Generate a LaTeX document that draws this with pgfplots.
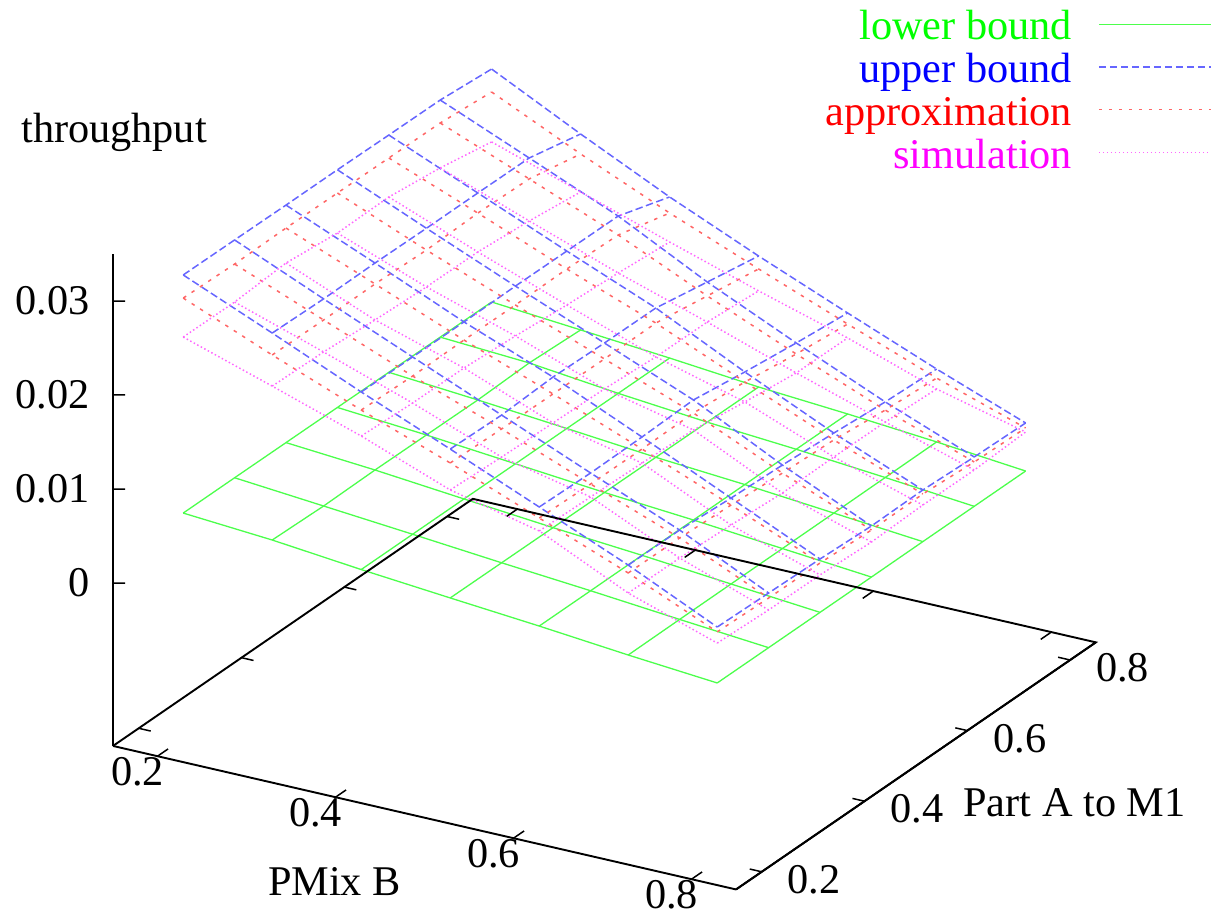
\documentclass[border=0pt]{standalone}
\usepackage{fontspec}
\setmainfont{Liberation Serif}
\usepackage{pgfplots}
\usepackage{pgfplotstable}
\pgfplotsset{compat=1.18}
\newcommand\myf{\fontsize{42.3pt}{42.7pt}\selectfont}
\definecolor{lgreen}{rgb}{0.3,1,0.3}
\definecolor{lblue}{rgb}{0.4,0.4,1}
\definecolor{lred}{rgb}{1,0.4,0.4}
\definecolor{lmag}{rgb}{1,0.4,1}
\definecolor{tgreen}{rgb}{0,1,0}
\definecolor{tblue}{rgb}{0,0,1}
\definecolor{tred}{rgb}{1,0,0}
\definecolor{tmag}{rgb}{1,0,1}
\pgfplotsset{
 lowst/.style={no marks,lgreen,line width=1.3pt,solid},
 uppst/.style={no marks,lblue,line width=1.5pt,dash pattern=on 7.5pt off 3.5pt},
 appst/.style={no marks,lred,line width=1.5pt,dash pattern=on 3.5pt off 6.5pt},
 simst/.style={no marks,lmag,line width=1.5pt,dash pattern=on 1.5pt off 2.5pt},
}
\newcommand\wire[2]{%
 \pgfplotsinvokeforeach{0.2,0.3,0.4,0.5,0.6,0.7,0.8}{%
  \addplot3[forget plot,#2,x filter/.expression={abs(x-##1)<0.01?x:nan},unbounded coords=discard] table {#1};
  \addplot3[forget plot,#2,y filter/.expression={abs(y-##1)<0.01?y:nan},unbounded coords=discard] table {#1};
 }}
\pgfplotstableread{
x y z
.2 .2 .00666
.2 .3 .00665
.2 .4 .00664
.2 .5 .00662
.2 .6 .00661
.2 .7 .00659
.2 .8 .00657
.3 .2 .00597
.3 .3 .00583
.3 .4 .0059
.3 .5 .00587
.3 .6 .00584
.3 .7 .00602
.3 .8 .00578
.4 .2 .00501
.4 .3 .00500
.4 .4 .00500
.4 .5 .00499
.4 .6 .00499
.4 .7 .00498
.4 .8 .00498
.5 .2 .00416
.5 .3 .00415
.5 .4 .00414
.5 .5 .00412
.5 .6 .00411
.5 .7 .00409
.5 .8 .00407
.6 .2 .00336
.6 .3 .00336
.6 .4 .00337
.6 .5 .00337
.6 .6 .00338
.6 .7 .00338
.6 .8 .00338
.7 .2 .00246
.7 .3 .00248
.7 .4 .0025
.7 .5 .00252
.7 .6 .00254
.7 .7 .00257
.7 .8 .00259
.8 .2 .00166
.8 .3 .00166
.8 .4 .00167
.8 .5 .00167
.8 .6 .00168
.8 .7 .00168
.8 .8 .00168
}\lowtab
\pgfplotstableread{
x y z
.2 .2 .03198
.2 .3 .03195
.2 .4 .0319
.2 .5 .0319
.2 .6 .03184
.2 .7 .03182
.2 .8 .03136
.3 .2 .02799
.3 .3 .02786
.3 .4 .02793
.3 .5 .02787
.3 .6 .02787
.3 .7 .02783
.3 .8 .02663
.4 .2 .02389
.4 .3 .02386
.4 .4 .02383
.4 .5 .0239
.4 .6 .02387
.4 .7 .02384
.4 .8 .02211
.5 .2 .02001
.5 .3 .01987
.5 .4 .02016
.5 .5 .02002
.5 .6 .01999
.5 .7 .019
.5 .8 .01801
.6 .2 .01602
.6 .3 .01588
.6 .4 .01596
.6 .5 .01614
.6 .6 .01536
.6 .7 .01469
.6 .8 .01413
.7 .2 .01203
.7 .3 .012
.7 .4 .01165
.7 .5 .0114
.7 .6 .01105
.7 .7 .0106
.7 .8 .01035
.8 .2 .00762
.8 .3 .00748
.8 .4 .00734
.8 .5 .0071
.8 .6 .00717
.8 .7 .00693
.8 .8 .00679
}\upptab
\pgfplotstableread{
x y z
.2 .2 .02953
.2 .3 .02939
.2 .4 .02947
.2 .5 .02944
.2 .6 .0294
.2 .7 .02937
.2 .8 .02891
.3 .2 .02565
.3 .3 .02562
.3 .4 .02569
.3 .5 .02555
.3 .6 .02573
.3 .7 .0256
.3 .8 .0245
.4 .2 .02198
.4 .3 .02184
.4 .4 .02191
.4 .5 .02188
.4 .6 .02196
.4 .7 .02182
.4 .8 .0204
.5 .2 .01852
.5 .3 .01838
.5 .4 .01835
.5 .5 .01832
.5 .6 .01839
.5 .7 .01751
.5 .8 .01663
.6 .2 .01485
.6 .3 .01471
.6 .4 .01468
.6 .5 .01476
.6 .6 .0143
.6 .7 .01352
.6 .8 .01296
.7 .2 .01118
.7 .3 .01115
.7 .4 .0109
.7 .5 .01055
.7 .6 .01031
.7 .7 .00974
.7 .8 .00939
.8 .2 .00709
.8 .3 .00695
.8 .4 .00691
.8 .5 .00667
.8 .6 .00674
.8 .7 .00639
.8 .8 .00626
}\apptab
\pgfplotstableread{
x y z
.2 .2 .02538
.2 .3 .02535
.2 .4 .02574
.2 .5 .02518
.2 .6 .02526
.2 .7 .02459
.2 .8 .0236
.3 .2 .02234
.3 .3 .02221
.3 .4 .02186
.3 .5 .02162
.3 .6 .02159
.3 .7 .02113
.3 .8 .02046
.4 .2 .01921
.4 .3 .01897
.4 .4 .01894
.4 .5 .01859
.4 .6 .01813
.4 .7 .01778
.4 .8 .01732
.5 .2 .01565
.5 .3 .0154
.5 .4 .01527
.5 .5 .01513
.5 .6 .01478
.5 .7 .01474
.5 .8 .01429
.6 .2 .01347
.6 .3 .01333
.6 .4 .01319
.6 .5 .01295
.6 .6 .01217
.6 .7 .0115
.6 .8 .01147
.7 .2 .00905
.7 .3 .00902
.7 .4 .00878
.7 .5 .00843
.7 .6 .0085
.7 .7 .00847
.7 .8 .00822
.8 .2 .00591
.8 .3 .00567
.8 .4 .00564
.8 .5 .00539
.8 .6 .00557
.8 .7 .00554
.8 .8 .00583
}\simtab
\begin{document}
\begin{tikzpicture}
\useasboundingbox (0,0) rectangle (1214pt,913pt);
\begin{axis}[
 at={(113pt,330pt)},anchor=origin,
 x={(890pt,-205pt)},y={(514pt,353pt)},z={(0pt,9400pt)},
 xmin=.15,xmax=.85,ymin=.15,ymax=.85,zmin=-.01734,zmax=.035,
 disabledatascaling,clip=false,
 axis x line=bottom,axis y line=left,axis z line=left,
 axis line style={-,black,line width=1.9pt},
 major tick length=0pt,
 xtick={.2,.4,.6,.8},ytick={.2,.4,.6,.8},ztick={0,.01,.02,.03},
 scaled ticks=false,
 tick label style={font=\myf,/pgf/number format/fixed,/pgf/number format/assume math mode=true},
 xticklabel style={anchor=center,xshift=-20pt,yshift=-16pt},
 yticklabel style={anchor=center,xshift=52.5pt,yshift=-8pt},
 zticklabel style={anchor=east,xshift=-20pt},
 xlabel={PMix B},ylabel={Part A to M1},zlabel={throughput},
 label style={font=\myf},
 xlabel style={at={(axis cs:.5017,-.031,-.01734)},anchor=center,xshift=1.5pt},
 ylabel style={at={(axis cs:1.0267,.4977,-.01734)},anchor=center,xshift=2.5pt},
 zlabel style={at={(axis cs:-.603,1.452,-.01734)},anchor=center,rotate=-90,xshift=2pt},
 legend plot pos=right,
 legend cell align=right,
 legend image code/.code={\draw[#1] (0pt,7pt) -- (112pt,7pt);},
 legend style={at={(axis cs:.1713,2.2474,-.01734)},anchor=north east,xshift=1.5pt,draw=none,fill=none,inner sep=0pt,outer sep=0pt,
   font=\myf,column sep=26pt,row sep=0pt,
   nodes={inner sep=0pt,text height=30pt,text depth=12.7pt}},
]
\addlegendimage{lowst}\addlegendentry{\textcolor{tgreen}{lower bound}}
\addlegendimage{uppst}\addlegendentry{\textcolor{tblue}{upper bound}}
\addlegendimage{appst}\addlegendentry{\textcolor{tred}{approximation}}
\addlegendimage{simst}\addlegendentry{\textcolor{tmag}{simulation}}
\wire{\lowtab}{lowst}
\wire{\upptab}{uppst}
\wire{\apptab}{appst}
\wire{\simtab}{simst}
% remaining floor edges and tick marks of the frame
\draw[black,line width=1.9pt] (axis cs:.85,.15,-.01734) -- (axis cs:.85,.85,-.01734) -- (axis cs:.15,.85,-.01734) -- (axis cs:.15,.15,-.01734);
\pgfplotsinvokeforeach{.2,.4,.6,.8}{
 \draw[black,line width=1.5pt] (axis cs:#1,.15,-.01734) -- (axis cs:#1,.1706,-.01734);
 \draw[black,line width=1.5pt] (axis cs:#1,.85,-.01734) -- (axis cs:#1,.8294,-.01734);
 \draw[black,line width=1.5pt] (axis cs:.15,#1,-.01734) -- (axis cs:.1635,#1,-.01734);
 \draw[black,line width=1.5pt] (axis cs:.85,#1,-.01734) -- (axis cs:.8365,#1,-.01734);
}
\pgfplotsinvokeforeach{0,.01,.02,.03}{
 \draw[black,line width=1.5pt] (axis cs:.15,.15,#1) -- (axis cs:.1601,.15586,#1);
}
\end{axis}
\end{tikzpicture}
\end{document}
